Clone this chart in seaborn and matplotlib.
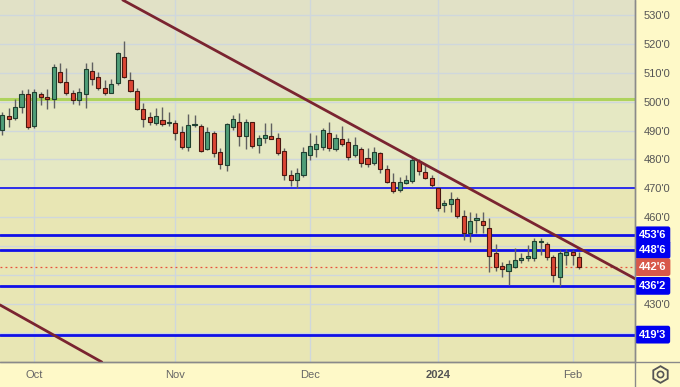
import numpy as np
import pandas as pd
import seaborn as sns
import matplotlib.pyplot as plt
from matplotlib.lines import Line2D
from matplotlib.ticker import FuncFormatter

# daily OHLC, 25 Sep 2023 .. 2 Feb 2024 (cents/bushel)
opens = [490.2, 495.0, 494.4, 498.2, 502.7, 491.6, 502.7, 501.6, 500.9, 510.3,
         506.8, 503.0, 500.6, 502.7, 510.6, 508.5, 504.7, 503.0, 506.5, 515.5,
         507.5, 503.7, 497.5, 494.7, 492.6, 493.7, 492.6, 492.6, 489.5, 484.3,
         492.0, 491.6, 483.6, 489.2, 482.6, 478.0, 491.2, 493.0, 488.1, 493.0,
         485.0, 487.4, 488.1, 487.4, 483.0, 474.6, 472.9, 474.6, 481.6, 483.6,
         484.3, 489.2, 483.6, 487.1, 486.0, 481.6, 483.6, 480.5, 478.8, 482.2,
         476.7, 472.2, 469.4, 471.9, 472.6, 479.5, 475.7, 473.6, 470.0, 464.3,
         464.6, 466.3, 460.5, 454.6, 459.1, 458.7, 456.4, 447.5, 443.2, 441.4,
         442.8, 445.2, 445.9, 445.9, 451.5, 450.8, 446.3, 439.3, 447.0, 448.0,
         446.3]
highs = [496.4, 497.8, 501.0, 504.0, 504.4, 504.4, 503.4, 504.4, 513.0, 513.4,
         511.7, 504.0, 504.7, 513.4, 513.7, 510.3, 507.5, 507.9, 517.2, 521.0,
         510.3, 504.7, 499.6, 496.4, 497.8, 498.2, 496.4, 493.7, 491.6, 495.7,
         495.4, 492.3, 491.2, 489.9, 484.0, 492.6, 495.4, 496.1, 494.0, 493.0,
         488.5, 492.6, 492.6, 489.2, 484.0, 476.4, 477.0, 484.3, 489.2, 488.5,
         490.9, 493.0, 488.8, 491.6, 487.4, 487.8, 484.3, 484.0, 484.3, 482.6,
         478.1, 475.3, 474.0, 474.6, 480.9, 480.2, 478.1, 474.6, 470.5, 466.0,
         468.8, 467.0, 462.5, 461.8, 461.5, 461.8, 459.8, 450.6, 444.5, 445.2,
         449.4, 447.6, 450.3, 452.8, 452.8, 451.5, 447.0, 448.7, 449.0, 448.7,
         448.0]
lows = [488.5, 491.2, 493.7, 496.1, 490.6, 490.9, 498.9, 497.5, 497.8, 506.5,
        502.3, 499.2, 498.9, 497.8, 505.8, 504.0, 502.3, 503.0, 505.8, 508.2,
        503.4, 497.1, 491.2, 491.9, 491.9, 491.6, 491.6, 486.7, 483.6, 482.9,
        491.2, 482.6, 483.3, 481.0, 476.7, 476.0, 490.2, 484.7, 483.6, 484.0,
        482.2, 485.7, 487.0, 481.6, 472.9, 470.8, 470.1, 474.0, 479.8, 481.0,
        483.3, 482.9, 482.9, 484.7, 479.8, 480.9, 477.4, 477.4, 478.1, 475.3,
        471.9, 468.4, 468.8, 471.5, 471.9, 474.6, 473.3, 470.5, 462.2, 461.8,
        461.8, 459.8, 452.1, 451.5, 454.6, 454.6, 441.0, 441.4, 439.3, 436.6,
        442.5, 444.2, 444.8, 445.0, 447.0, 445.2, 437.6, 436.2, 443.5, 443.5,
        442.0]
closes = [495.4, 494.0, 498.2, 502.7, 491.2, 503.4, 501.6, 500.9, 512.0, 506.8,
          503.0, 500.6, 503.4, 511.3, 507.9, 504.7, 503.0, 506.1, 516.9, 508.5,
          503.7, 497.5, 494.0, 493.0, 495.0, 492.3, 492.9, 489.2, 484.3, 491.9,
          492.3, 483.0, 489.5, 482.2, 478.4, 492.3, 494.0, 488.1, 493.0, 484.7,
          487.4, 488.5, 487.1, 482.2, 474.6, 472.9, 475.3, 482.6, 484.7, 485.3,
          490.2, 484.0, 487.4, 485.3, 480.9, 485.0, 478.8, 478.4, 482.6, 476.7,
          472.2, 469.1, 472.2, 472.9, 479.8, 476.0, 473.6, 471.2, 463.2, 465.0,
          466.3, 460.5, 454.6, 458.7, 459.8, 457.3, 446.6, 442.8, 442.1, 443.8,
          445.2, 445.9, 446.6, 451.8, 451.8, 446.3, 440.0, 447.6, 448.0, 447.0,
          442.75]

holidays = ['2023-11-23', '2023-12-25', '2024-01-01', '2024-01-15']
month_names = ['Oct', 'Nov', 'Dec', '2024', 'Feb']

green_level = 501.0
blue_levels = [453.75, 448.75, 436.25, 419.375]
thin_level = 470.0
last_price = 442.75
trend_upper = [(18.8, 535.2), (98.7, 438.8)]
trend_lower = [(-0.4, 429.7), (15.2, 410.3)]


def fmt(v):
    whole = int(v)
    return f"{whole}'{int(round((v - whole) * 8))}"


dates = pd.bdate_range('2023-09-25', '2024-02-02')
dates = dates[~dates.isin(pd.to_datetime(holidays))]
df = pd.DataFrame({'date': dates, 'open': opens, 'high': highs,
                   'low': lows, 'close': closes})
df['i'] = np.arange(len(df))
df['up'] = df['close'] >= df['open']
df['bot'] = df[['open', 'close']].min(axis=1)
df['body'] = (df['close'] - df['open']).abs().clip(lower=0.45)

sns.set_style('white')
plt.rcParams['font.family'] = ['Liberation Sans', 'DejaVu Sans']

fig = plt.figure(figsize=(6.8, 3.87), dpi=100, facecolor='#fef9c8')
ax = fig.add_axes([0, 25 / 387, 635 / 680, 362 / 387])
ax.set_facecolor('#e8e6b4')
ax.axhspan(green_level, 540, color='#e1e1c6', zorder=0, lw=0)
ax.axhspan(thin_level, green_level, color='#e5e8c3', zorder=0, lw=0)

# candles
ax.vlines(df['i'], df['low'], df['high'], color='#606060', lw=1, zorder=3)
up = df[df['up']]
dn = df[~df['up']]
ax.bar(up['i'], up['body'], bottom=up['bot'], width=0.64, color='#4f9e78',
       edgecolor='#1f4030', lw=0.8, zorder=4)
ax.bar(dn['i'], dn['body'], bottom=dn['bot'], width=0.64, color='#db4634',
       edgecolor='#4a1710', lw=0.8, zorder=4)

# levels
ax.axhline(green_level, color='#aed35c', lw=2.2, zorder=2)
ax.axhline(thin_level, color='#1010f0', lw=1.2, zorder=2)
for lv in blue_levels:
    ax.axhline(lv, color='#1010e8', lw=2, zorder=2)
ax.axhline(last_price, color='#e8503c', lw=0.9, ls=(0, (1.5, 2.5)), zorder=2)

ax.axline(*trend_upper, color='#7a2430', lw=2, zorder=5)
ax.axline(*trend_lower, color='#7a2430', lw=2, zorder=5)

ax.set_xlim(-0.36, 98.74)
ax.set_ylim(409.9, 535.2)

# axes / ticks
ax.set_yticks(np.arange(420, 540, 10))
hidden = {420, 440, 450}
ax.yaxis.set_major_formatter(FuncFormatter(
    lambda v, p: '' if int(round(v)) in hidden else fmt(v)))
ax.yaxis.tick_right()
ax.tick_params(axis='y', length=0, pad=6, labelsize=8, labelcolor='#555555')

first_days = df.groupby(df['date'].dt.to_period('M'))['i'].first().values[1:]
ax.set_xticks(first_days)
ax.set_xticklabels(month_names)
ax.tick_params(axis='x', length=0, pad=6, labelsize=8, labelcolor='#666666')
for t in ax.get_xticklabels():
    if t.get_text() == '2024':
        t.set_fontweight('bold')
        t.set_color('#555555')

ax.grid(True, color='#cfd7dc', lw=1)
ax.set_axisbelow(True)
for s in ['top', 'left']:
    ax.spines[s].set_visible(False)
for s in ['right', 'bottom']:
    ax.spines[s].set_color('#8a8a8a')
    ax.spines[s].set_linewidth(1)

# price boxes
box_kw = dict(xycoords=('axes fraction', 'data'), xytext=(4, 0),
              textcoords='offset pixels', ha='left', va='center',
              color='white', fontweight='bold', fontsize=8,
              annotation_clip=False)
for lv in blue_levels:
    ax.annotate(fmt(lv), xy=(1.0, lv),
                bbox=dict(boxstyle='round,pad=0.35,rounding_size=0.2',
                          fc='#0000f0', ec='none'), **box_kw)
ax.annotate(fmt(last_price), xy=(1.0, last_price),
            bbox=dict(boxstyle='round,pad=0.35,rounding_size=0.2',
                      fc='#d8584a', ec='none'), **box_kw)

# frame lines into the margins
fig.add_artist(Line2D([635 / 680, 635 / 680], [0, 1], color='#8a8a8a', lw=1))
fig.add_artist(Line2D([0, 1], [25 / 387, 25 / 387], color='#8a8a8a', lw=1))

# settings icon
icon = fig.add_axes([645 / 680, 2 / 387, 30 / 680, 22 / 387])
icon.axis('off')
icon.plot(0, 0, marker='h', ms=12, mfc='none', mec='#555555', mew=1.3)
icon.plot(0, 0, marker='o', ms=4.5, mfc='none', mec='#555555', mew=1.2)

fig.savefig('out.png', dpi=100, facecolor=fig.get_facecolor())
